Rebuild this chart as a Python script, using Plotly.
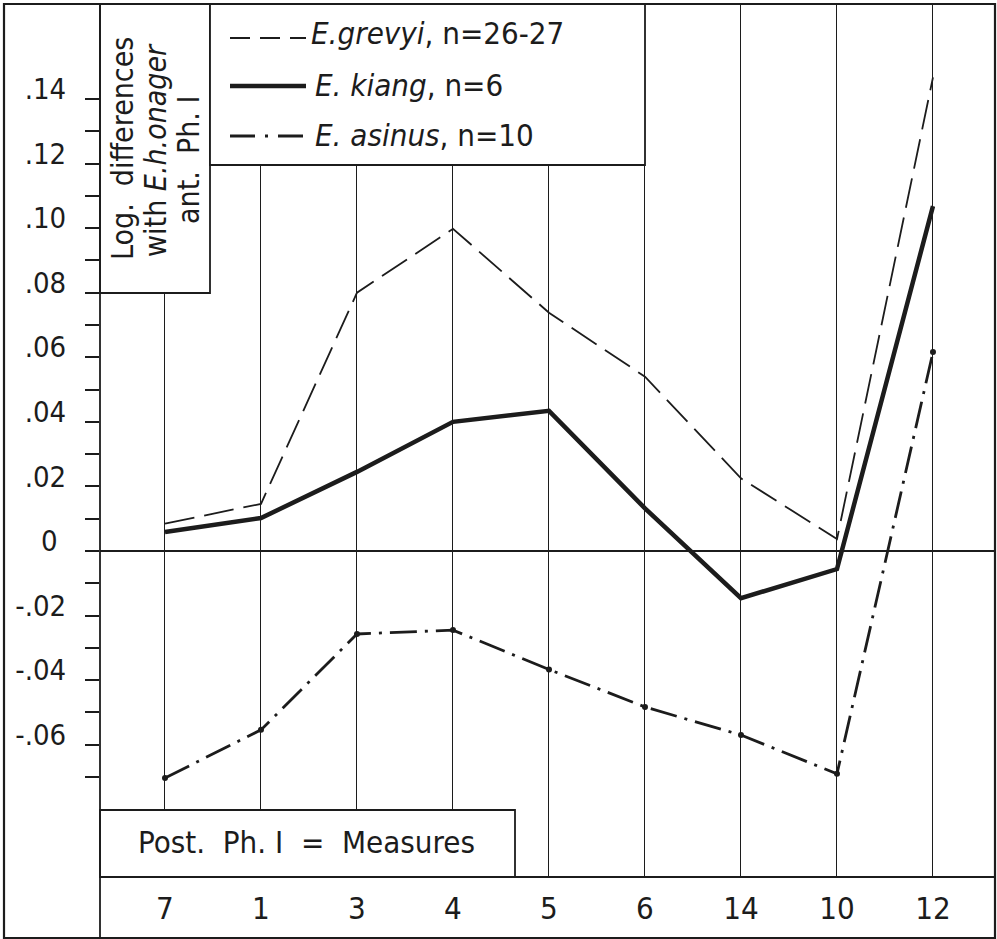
import plotly.graph_objects as go

# ---- data ----
measures = ["7", "1", "3", "4", "5", "6", "14", "10", "12"]
grevyi = [0.0085, 0.0146, 0.0800, 0.0998, 0.0738, 0.0540, 0.0225, 0.0037, 0.1467]
kiang = [0.0059, 0.0102, 0.0245, 0.0400, 0.0434, 0.0132, -0.0146, -0.0056, 0.1068]
asinus = [-0.0703, -0.0554, -0.0257, -0.0245, -0.0367, -0.0483, -0.0570, -0.0690, 0.0616]

ytick_vals = [round(-0.07 + 0.01 * i, 2) for i in range(22)]
ytick_labels = {0.14: ".14", 0.12: ".12", 0.10: ".10", 0.08: ".08", 0.06: ".06",
                0.04: ".04", 0.02: ".02", 0.0: "0\u2004", -0.02: "-.02",
                -0.04: "-.04", -0.06: "-.06"}
ytick_text = [ytick_labels.get(v, "") for v in ytick_vals]

legend_labels = ["<i>E.grevyi</i>, n=26-27", "<i>E. kiang</i>, n=6", "<i>E. asinus</i>, n=10"]
ylabel_lines = ["Log.  differences", "with <i>E.h.onager</i>", "ant.  Ph. \u2160"]
xbox_label = "Post.  Ph. \u2160  =  Measures"

FONT = "DejaVu Sans Condensed, DejaVu Sans, sans-serif"
INK = "#1c1c1c"
W, H = 997, 939
L, R, T, B = 100, 2, 4, 62
PW, PH = W - L - R, H - T - B


def px(x):
    return (x - L) / PW


def py(y):
    return (H - B - y) / PH


fig = go.Figure()
fig.add_trace(go.Scatter(x=measures, y=grevyi, mode="lines",
                         line=dict(color=INK, width=1.8, dash="30px,10px"),
                         showlegend=False))
fig.add_trace(go.Scatter(x=measures, y=kiang, mode="lines",
                         line=dict(color=INK, width=4.5),
                         showlegend=False))
fig.add_trace(go.Scatter(x=measures, y=asinus, mode="lines+markers",
                         line=dict(color=INK, width=2.8, dash="27px,8px,3px,8px"),
                         marker=dict(color=INK, size=6),
                         showlegend=False))

shapes = []
box_line = dict(color=INK, width=1.8)
shapes.append(dict(type="rect", xref="paper", yref="paper",
                   x0=px(100), x1=px(210), y0=py(293), y1=py(4),
                   fillcolor="white", line=box_line, layer="above"))
shapes.append(dict(type="rect", xref="paper", yref="paper",
                   x0=px(210), x1=px(645), y0=py(165), y1=py(4),
                   fillcolor="white", line=box_line, layer="above"))
shapes.append(dict(type="rect", xref="paper", yref="paper",
                   x0=px(100), x1=px(515), y0=py(877), y1=py(810),
                   fillcolor="white", line=box_line, layer="above"))
shapes.append(dict(type="rect", xref="paper", yref="paper",
                   x0=px(4), x1=px(995), y0=py(938), y1=py(4),
                   line=dict(color=INK, width=2.2), layer="above"))
shapes.append(dict(type="line", xref="paper", yref="paper",
                   x0=px(100), x1=px(100), y0=py(938), y1=py(4),
                   line=dict(color=INK, width=1.8), layer="above"))
shapes.append(dict(type="line", xref="paper", yref="paper",
                   x0=px(100), x1=px(995), y0=py(877), y1=py(877),
                   line=dict(color=INK, width=1.8), layer="above"))
sample_y = [38, 86, 136]
sample_styles = [dict(color=INK, width=1.8, dash="20px,10px"),
                 dict(color=INK, width=4.5),
                 dict(color=INK, width=2.8, dash="25px,10px,3px,10px")]
for yy, st in zip(sample_y, sample_styles):
    shapes.append(dict(type="line", xref="paper", yref="paper",
                       x0=px(230), x1=px(306), y0=py(yy), y1=py(yy),
                       line=st, layer="above"))

annotations = []
legend_text_y = [33, 85, 135]
legend_text_x = [309, 313, 313]
for txt, xx, yy in zip(legend_labels, legend_text_x, legend_text_y):
    annotations.append(dict(text=txt, xref="paper", yref="paper",
                            x=px(xx), y=py(yy), xanchor="left", yanchor="middle",
                            showarrow=False, font=dict(family=FONT, size=31, color=INK)))
for txt, xx, yy in zip(ylabel_lines, [123, 156, 188], [149, 150, 160]):
    annotations.append(dict(text=txt, xref="paper", yref="paper", textangle=-90,
                            x=px(xx), y=py(yy), xanchor="center", yanchor="middle",
                            showarrow=False, font=dict(family=FONT, size=30, color=INK)))
annotations.append(dict(text=xbox_label, xref="paper", yref="paper",
                        x=px(306), y=py(842), xanchor="center", yanchor="middle",
                        showarrow=False, font=dict(family=FONT, size=31, color=INK)))

fig.update_layout(
    width=W, height=H,
    margin=dict(l=L, r=R, t=T, b=B, pad=0),
    paper_bgcolor="white", plot_bgcolor="white",
    showlegend=False,
    shapes=shapes, annotations=annotations,
    xaxis=dict(type="category", categoryorder="array", categoryarray=measures,
               range=[-0.677, 8.646], showgrid=True, gridcolor=INK, gridwidth=1.3,
               showline=False, zeroline=False, ticks="", ticklabelstandoff=10,
               tickfont=dict(family=FONT, size=31, color=INK)),
    yaxis=dict(range=[-0.10097, 0.16942], showgrid=False, zeroline=True,
               zerolinecolor=INK, zerolinewidth=1.6, showline=False,
               tickmode="array", tickvals=ytick_vals, ticktext=ytick_text,
               ticks="outside", ticklen=14, tickwidth=1.6, tickcolor=INK,
               ticklabelshift=-10, ticklabelstandoff=13,
               tickfont=dict(family=FONT, size=29, color=INK)),
)

fig.write_html("out.html", config={"displayModeBar": False},
               post_script="document.body.style.margin='0px';")
